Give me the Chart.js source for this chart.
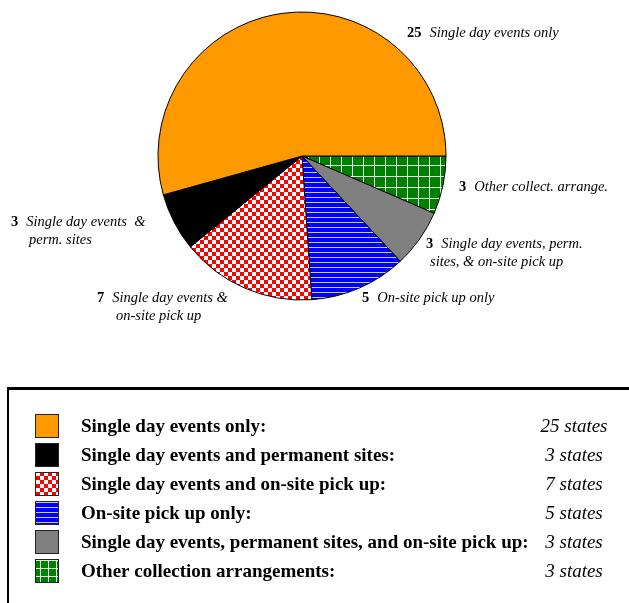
<!DOCTYPE html>
<html>
<head>
<meta charset="utf-8">
<script src="https://cdn.jsdelivr.net/npm/chart.js@4.4.1/dist/chart.umd.min.js"></script>
<style>
  html, body { margin: 0; padding: 0; background: #fff; }
  canvas { display: block; }
</style>
</head>
<body>
<canvas id="graficaPastel" width="629" height="603"></canvas>
<script>
// datos (orden de la leyenda, que es el orden antihorario del pastel)
const categorias = [
  'Single day events only:',
  'Single day events and permanent sites:',
  'Single day events and on-site pick up:',
  'On-site pick up only:',
  'Single day events, permanent sites, and on-site pick up:',
  'Other collection arrangements:'
];
const estados = [25, 3, 7, 5, 3, 3];
const etiquetasCortas = [
  ['Single day events only'],
  ['Single day events  &', 'perm. sites'],
  ['Single day events &', 'on-site pick up'],
  ['On-site pick up only'],
  ['Single day events, perm.', 'sites, & on-site pick up'],
  ['Other collect. arrange.']
];
const unidad = 'states';

// estilos
const fuente = '"Liberation Serif", "Times New Roman", serif';
// posicion de cada etiqueta respecto al centro del pastel: [x numero, y base, x segunda linea]
const posEtiquetas = [
  [105, -119, 0],
  [-291, 70, -273],
  [-205, 146, -186],
  [60, 146, 0],
  [124, 92, 128],
  [157, 35, 0]
];

function crearPatron(tipo, escala) {
  const c = document.createElement('canvas');
  const g = c.getContext('2d');
  if (tipo === 'cuadros') {
    c.width = 8; c.height = 8;
    g.fillStyle = '#fff'; g.fillRect(0, 0, 8, 8);
    g.fillStyle = '#ff0000';
    g.fillRect(0, 0, 4, 4); g.fillRect(4, 4, 4, 4);
  } else if (tipo === 'rayas') {
    c.width = 8; c.height = 5;
    g.fillStyle = '#0000ff'; g.fillRect(0, 0, 8, 5);
    g.fillStyle = '#c8c8ff'; g.fillRect(0, 2, 8, 1);
  } else {
    const s = escala || 11;
    c.width = s; c.height = s;
    g.fillStyle = '#008000'; g.fillRect(0, 0, s, s);
    g.fillStyle = '#e0ffe0';
    g.fillRect(0, 0, s, 1); g.fillRect(0, 0, 1, s);
  }
  return g.createPattern(c, 'repeat');
}

const ctx = document.getElementById('graficaPastel').getContext('2d');
const colores = ['#ff9900', '#000000', crearPatron('cuadros'), crearPatron('rayas'), '#808080', crearPatron('rejilla', 11)];
const coloresLeyenda = ['#ff9900', '#000000', crearPatron('cuadros'), crearPatron('rayas'), '#808080', crearPatron('rejilla', 8)];

// Chart.js dibuja en sentido horario, el original va antihorario: invertimos
const orden = [5, 4, 3, 2, 1, 0];

const pluginEtiquetas = {
  id: 'etiquetas',
  afterDatasetsDraw(chart) {
    const g = chart.ctx;
    const meta = chart.getDatasetMeta(0);
    const cx = meta.data[0].x, cy = meta.data[0].y;
    g.save();
    g.fillStyle = '#000';
    g.textBaseline = 'alphabetic';
    orden.forEach((i) => {
      const [dx, dy, dx2] = posEtiquetas[i];
      const x = cx + dx, y = cy + dy;
      g.font = 'bold 14.5px ' + fuente;
      const num = String(estados[i]);
      g.fillText(num, x, y);
      const ancho = g.measureText(num).width;
      g.font = 'italic 14.5px ' + fuente;
      g.fillText(etiquetasCortas[i][0], x + ancho + 8, y);
      if (etiquetasCortas[i][1]) {
        g.fillText(etiquetasCortas[i][1], cx + dx2, y + 18);
      }
    });
    g.restore();
  }
};

const pluginLeyenda = {
  id: 'leyendaCaja',
  afterDraw(chart) {
    const g = chart.ctx;
    g.save();
    g.fillStyle = '#000';
    g.fillRect(7, 387, 622, 3);
    g.fillRect(7, 387, 2, 216);
    categorias.forEach((cat, i) => {
      const top = 414 + i * 29;
      g.fillStyle = coloresLeyenda[i];
      g.fillRect(35, top, 24, 24);
      g.strokeStyle = '#222';
      g.lineWidth = 1;
      g.strokeRect(35.5, top + 0.5, 23, 23);
      g.fillStyle = '#000';
      g.font = 'bold 19px ' + fuente;
      g.textAlign = 'left';
      g.fillText(cat, 81, top + 18);
      g.font = 'italic 19px ' + fuente;
      g.textAlign = 'center';
      g.fillText(estados[i] + ' ' + unidad, 574, top + 18);
    });
    g.restore();
  }
};

new Chart(ctx, {
  type: 'pie',
  data: {
    labels: orden.map(i => categorias[i]),
    datasets: [{
      data: orden.map(i => estados[i]),
      backgroundColor: orden.map(i => colores[i]),
      borderColor: '#000',
      borderWidth: 1
    }]
  },
  options: {
    responsive: false,
    animation: false,
    rotation: 90,
    radius: 144,
    layout: { padding: { left: 159, right: 184, top: 12, bottom: 303 } },
    plugins: {
      legend: { display: false },
      tooltip: { enabled: false }
    }
  },
  plugins: [pluginEtiquetas, pluginLeyenda]
});
</script>
</body>
</html>
